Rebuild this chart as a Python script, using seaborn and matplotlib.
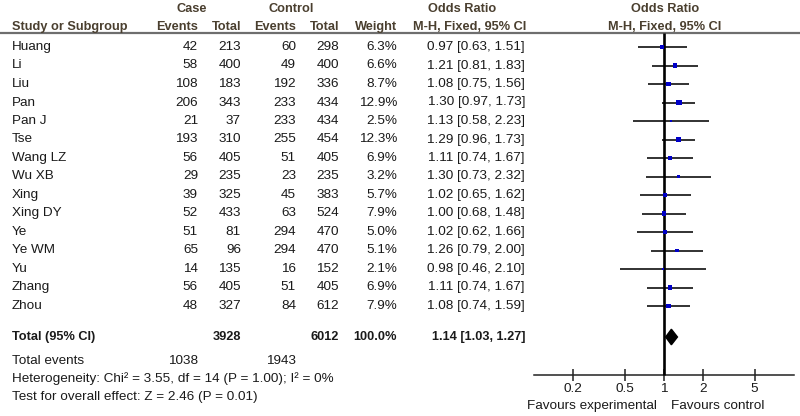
import numpy as np
import pandas as pd
import matplotlib
matplotlib.use("Agg")
import matplotlib.pyplot as plt
import seaborn as sns

# data
studies = ["Huang", "Li", "Liu", "Pan", "Pan J", "Tse", "Wang LZ", "Wu XB", "Xing",
           "Xing DY", "Ye", "Ye WM", "Yu", "Zhang", "Zhou"]
case_events = [42, 58, 108, 206, 21, 193, 56, 29, 39, 52, 51, 65, 14, 56, 48]
case_total = [213, 400, 183, 343, 37, 310, 405, 235, 325, 433, 81, 96, 135, 405, 327]
ctrl_events = [60, 49, 192, 233, 233, 255, 51, 23, 45, 63, 294, 294, 16, 51, 84]
ctrl_total = [298, 400, 336, 434, 434, 454, 405, 235, 383, 524, 470, 470, 152, 405, 612]
weight = [6.3, 6.6, 8.7, 12.9, 2.5, 12.3, 6.9, 3.2, 5.7, 7.9, 5.0, 5.1, 2.1, 6.9, 7.9]
odds = [0.97, 1.21, 1.08, 1.30, 1.13, 1.29, 1.11, 1.30, 1.02, 1.00, 1.02, 1.26, 0.98, 1.11, 1.08]
ci_low = [0.63, 0.81, 0.75, 0.97, 0.58, 0.96, 0.74, 0.73, 0.65, 0.68, 0.62, 0.79, 0.46, 0.74, 0.74]
ci_high = [1.51, 1.83, 1.56, 1.73, 2.23, 1.73, 1.67, 2.32, 1.62, 1.48, 1.66, 2.00, 2.10, 1.67, 1.59]
total_case, total_ctrl = 3928, 6012
total_events_case, total_events_ctrl = 1038, 1943
pooled, pooled_low, pooled_high = 1.14, 1.03, 1.27
x_ticks = [0.2, 0.5, 1, 2, 5]

df = pd.DataFrame({"study": studies, "or": odds, "lo": ci_low, "hi": ci_high,
                   "w": weight, "row": np.arange(len(studies))})

sns.set_theme(style="white")
plt.rcParams["font.family"] = ["Liberation Sans", "DejaVu Sans"]

fig = plt.figure(figsize=(8, 4.16), dpi=100)

# row units: row r sits at pixel 47 + 18.5 * r
def row_of(py):
    return (py - 47) / 18.5

# overlay for the table, x in pixels
ax_t = fig.add_axes([0, 0, 1, 1])
ax_t.set_xlim(0, 800)
ax_t.set_ylim(row_of(416), row_of(0))
ax_t.axis("off")

# forest panel
top_px, bot_px = 33, 375
ax_f = fig.add_axes([534.4 / 800, 1 - bot_px / 416, 259.2 / 800, (bot_px - top_px) / 416])
ax_f.set_zorder(5)
ax_f.set_xscale("log")
ax_f.set_xlim(0.1, 10)
y_bot, y_top = row_of(bot_px), row_of(top_px)
ax_f.set_ylim(y_bot, y_top)
ax_f.patch.set_alpha(0)

hdr = "#4a3f2f"
txt = "#1a1a1a"
fs = 9.7   # regular text
fb = 9.2   # bold text

# header
ax_t.text(192, row_of(9), "Case", ha="center", va="center", fontsize=fb, fontweight="bold", color=hdr)
ax_t.text(291, row_of(9), "Control", ha="center", va="center", fontsize=fb, fontweight="bold", color=hdr)
ax_t.text(462, row_of(9), "Odds Ratio", ha="center", va="center", fontsize=fb, fontweight="bold", color=hdr)
ax_t.text(665, row_of(9), "Odds Ratio", ha="center", va="center", fontsize=fb, fontweight="bold", color=hdr)
ax_t.text(12, row_of(27), "Study or Subgroup", ha="left", va="center", fontsize=fb, fontweight="bold", color=hdr)
cols = [(198, "Events"), (241, "Total"), (296, "Events"), (339, "Total"), (397, "Weight")]
for xr, lab in cols:
    ax_t.text(xr, row_of(27), lab, ha="right", va="center", fontsize=fb, fontweight="bold", color=hdr)
ax_t.text(526, row_of(27), "M-H, Fixed, 95% CI", ha="right", va="center", fontsize=fb, fontweight="bold", color=hdr)
ax_t.text(665, row_of(27), "M-H, Fixed, 95% CI", ha="center", va="center", fontsize=fb, fontweight="bold", color=hdr)
ax_t.axhline(row_of(33), xmin=0, xmax=1, color="#6e6e6e", lw=1.6)

# study rows
for i, s in enumerate(studies):
    vals = [case_events[i], case_total[i], ctrl_events[i], ctrl_total[i], f"{weight[i]:.1f}%"]
    ax_t.text(12, i, s, ha="left", va="center", fontsize=fs, color=txt)
    for (xr, _), v in zip(cols, vals):
        ax_t.text(xr, i, str(v), ha="right", va="center", fontsize=fs, color=txt)
    ax_t.text(525, i, f"{odds[i]:.2f} [{ci_low[i]:.2f}, {ci_high[i]:.2f}]",
              ha="right", va="center", fontsize=fs, color=txt)

# totals
r_tot = row_of(337)
ax_t.text(12, r_tot, "Total (95% CI)", ha="left", va="center", fontsize=fb, fontweight="bold", color=txt)
ax_t.text(241, r_tot, str(total_case), ha="right", va="center", fontsize=fb, fontweight="bold", color=txt)
ax_t.text(339, r_tot, str(total_ctrl), ha="right", va="center", fontsize=fb, fontweight="bold", color=txt)
ax_t.text(397, r_tot, "100.0%", ha="right", va="center", fontsize=fb, fontweight="bold", color=txt)
ax_t.text(525, r_tot, f"{pooled:.2f} [{pooled_low:.2f}, {pooled_high:.2f}]",
          ha="right", va="center", fontsize=fb, fontweight="bold", color=txt)
ax_t.text(12, row_of(361), "Total events", ha="left", va="center", fontsize=fs, color=txt)
ax_t.text(198, row_of(361), str(total_events_case), ha="right", va="center", fontsize=fs, color=txt)
ax_t.text(296, row_of(361), str(total_events_ctrl), ha="right", va="center", fontsize=fs, color=txt)
ax_t.text(12, row_of(379), "Heterogeneity: Chi² = 3.55, df = 14 (P = 1.00); I² = 0%",
          ha="left", va="center", fontsize=fs, color=txt)
ax_t.text(12, row_of(397), "Test for overall effect: Z = 2.46 (P = 0.01)",
          ha="left", va="center", fontsize=fs, color=txt)
ax_t.text(592, row_of(406), "Favours experimental", ha="center", va="center", fontsize=fs, color=txt)
ax_t.text(718, row_of(406), "Favours control", ha="center", va="center", fontsize=fs, color=txt)

# forest marks
ax_f.plot([1, 1], [y_bot, y_top], color="#000000", lw=1.9, zorder=10, clip_on=False,
          solid_capstyle="butt")
ax_f.hlines(df["row"], df["lo"], df["hi"], color="#222222", lw=1.3, zorder=9)
sns.scatterplot(data=df, x="or", y="row", size="w", sizes=(3, 17), marker="s",
                color="#0000c8", edgecolor="#0000c8", linewidth=0, legend=False, ax=ax_f, zorder=12)
ax_f.fill([pooled_low, pooled, pooled_high, pooled],
          [r_tot, r_tot - 0.42, r_tot, r_tot + 0.42], color="black", zorder=12)

for side in ["top", "left", "right"]:
    ax_f.spines[side].set_visible(False)
ax_f.spines["bottom"].set_color("#222222")
ax_f.spines["bottom"].set_linewidth(1.1)
ax_f.set_xticks(x_ticks)
ax_f.set_xticklabels([str(t) for t in x_ticks])
ax_f.xaxis.set_minor_locator(matplotlib.ticker.NullLocator())
ax_f.tick_params(axis="x", direction="inout", length=9, width=1.1, color="#222222",
                 labelsize=fs, labelcolor=txt, pad=1, bottom=True)
ax_f.set_yticks([])
ax_f.set_xlabel("")
ax_f.set_ylabel("")

fig.savefig("out.png", dpi=100)
